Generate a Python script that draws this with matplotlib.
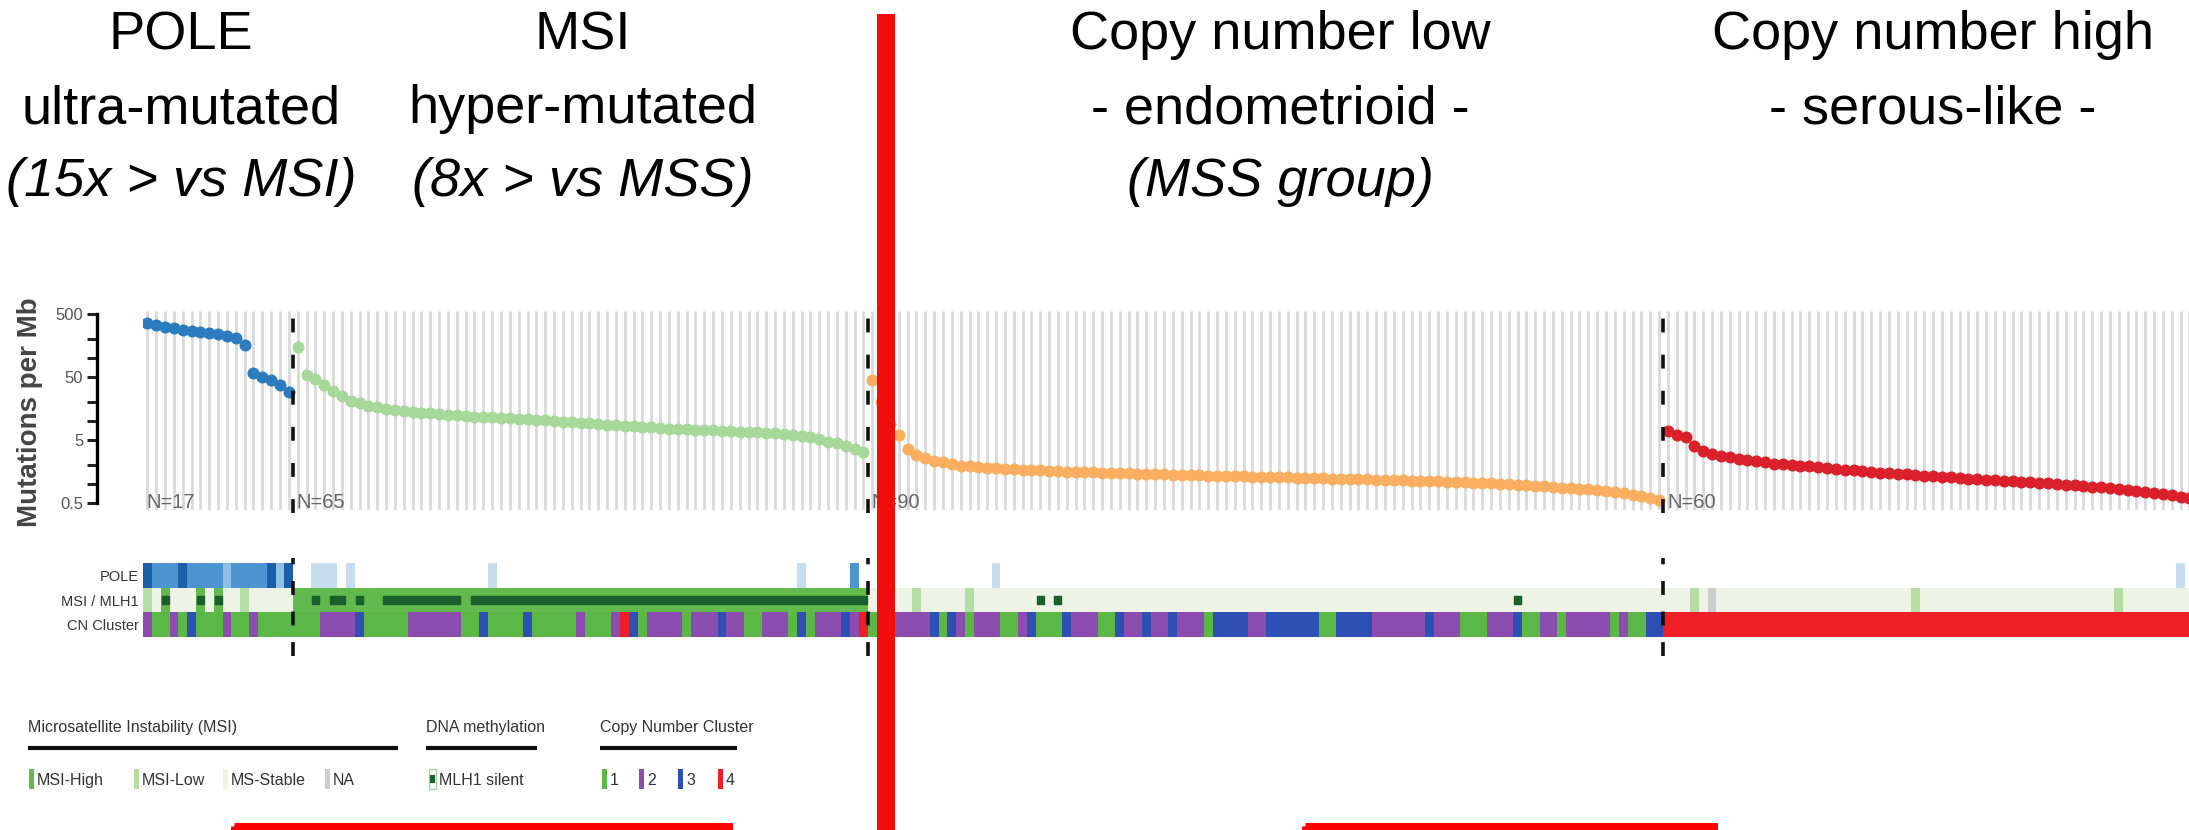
import numpy as np
import matplotlib.pyplot as plt
from matplotlib.colors import to_rgb
from matplotlib.patches import Rectangle

plt.rcParams['font.family'] = ['Liberation Sans', 'DejaVu Sans']
plt.rcParams['lines.scale_dashes'] = False

W, H, DPI = 2189, 830, 100

# subtypes in plotting order
group_names = ["POLE", "MSI", "CN low", "CN high"]
group_sizes = [17, 65, 90, 60]
point_colors = ["#2b7bbf", "#a6d89a", "#fbae60", "#d9202b"]

# mutations per Mb, each subtype sorted high -> low
pole_mut = [364, 334, 315, 297, 279, 272, 262, 252, 240, 224, 206, 161,
            58, 50, 45, 37, 29]
msi_mut = [150, 53, 47, 38, 30, 25, 21, 19, 17.5, 16.5,
           15.5, 15, 14.5, 14, 13.6, 13.2, 12.9, 12.6, 12.3, 12.0,
           11.8, 11.6, 11.4, 11.2, 11.0, 10.8, 10.6, 10.4, 10.2, 10.0,
           9.8, 9.6, 9.4, 9.2, 9.0, 8.8, 8.6, 8.4, 8.2, 8.0,
           7.9, 7.7, 7.6, 7.5, 7.4, 7.3, 7.2, 7.1, 7.0, 6.9,
           6.8, 6.7, 6.6, 6.5, 6.4, 6.2, 6.0, 5.8, 5.5, 5.1,
           4.7, 4.4, 4.0, 3.6, 3.2]
cnl_mut = [45, 20, 9, 6.0, 3.6, 2.9, 2.6, 2.35, 2.2, 2.05,
           1.95, 1.9, 1.85, 1.8, 1.77, 1.74, 1.71, 1.68, 1.66, 1.64,
           1.62, 1.60, 1.58, 1.56, 1.55, 1.53, 1.51, 1.50, 1.48, 1.47,
           1.46, 1.44, 1.43, 1.42, 1.40, 1.39, 1.38, 1.37, 1.36, 1.35,
           1.34, 1.33, 1.32, 1.31, 1.30, 1.29, 1.28, 1.27, 1.26, 1.25,
           1.24, 1.23, 1.22, 1.21, 1.20, 1.19, 1.18, 1.17, 1.16, 1.15,
           1.14, 1.13, 1.12, 1.11, 1.10, 1.09, 1.08, 1.06, 1.05, 1.04,
           1.02, 1.01, 0.99, 0.97, 0.96, 0.94, 0.92, 0.90, 0.88, 0.86,
           0.84, 0.82, 0.80, 0.78, 0.75, 0.72, 0.68, 0.64, 0.60, 0.55]
cnh_mut = [7.0, 6.0, 5.6, 4.0, 3.3, 3.0, 2.8, 2.65, 2.5, 2.4,
           2.3, 2.2, 2.1, 2.05, 2.0, 1.95, 1.9, 1.85, 1.8, 1.75,
           1.7, 1.65, 1.6, 1.56, 1.52, 1.48, 1.45, 1.42, 1.39, 1.36,
           1.33, 1.30, 1.27, 1.24, 1.21, 1.19, 1.17, 1.15, 1.13, 1.11,
           1.09, 1.07, 1.05, 1.03, 1.0, 0.97, 0.95, 0.93, 0.91, 0.89,
           0.87, 0.84, 0.81, 0.78, 0.75, 0.72, 0.69, 0.66, 0.63, 0.60]

# annotation tracks, one character per tumour (same order as above)
# POLE: 0 wild type, 1-4 increasing mutation class
pole_track = ("4333433332" "3333424"
              "0011101000" "0000000000" "0010000000" "0000000000" "0000000000"
              "0000000100" "00030"
              "0000000000" "0000100000" "0000000000" "0000000000" "0000000000"
              "0000000000" "0000000000" "0000000000" "0000000000"
              "0000000000" "0000000000" "0000000000" "0000000000" "0000000000"
              "0000000010")
# MSI: 0 MS-stable, 1 MSI-high, 2 MSI-low, 3 NA
msi_track = ("2010001010" "0200000"
             "1111111111" "1111111111" "1111111111" "1111111111" "1111111111"
             "1111111111" "11111"
             "0000020000" "0200000000" "0000000000" "0000000000" "0000000000"
             "0000000000" "0000000000" "0000000000" "0000000000"
             "0002030000" "0000000000" "0000000020" "0000000000" "0000000000"
             "0200000000")
# MLH1 promoter silenced
mlh1_track = ("0010001010" "0000000"
              "0010110100" "1111111110" "1111111111" "1111111111" "1111111111"
              "1111111111" "11111"
              "0000000000" "0000000001" "0100000000" "0000000000" "0000000000"
              "0000000000" "0000000000" "0001000000" "0000000000"
              "0000000000" "0000000000" "0000000000" "0000000000" "0000000000"
              "0000000000")
# copy number cluster 1-4
cn_track = ("2112131112" "1121111"
            "1112222311" "1112222221" "1311113111" "1121112431" "2222122232"
            "2112221312" "22324"
            "1222222313" "2122211231" "1132221132" "2322322213" "3332233333"
            "3113333222" "2223222111" "2223112212" "2222121133"
            "4444444444" "4444444444" "4444444444" "4444444444" "4444444444"
            "4444444444")

pole_colors = {"0": "#ffffff", "1": "#c6dcef", "2": "#8ec0e6", "3": "#4d94d2", "4": "#1b5fa9"}
msi_colors = {"0": "#edf4e6", "1": "#62b94e", "2": "#b5dda4", "3": "#cdcdcd"}
cn_colors = {"1": "#5bb847", "2": "#8b4db0", "3": "#2e4fb3", "4": "#ef1f28"}
mlh1_color = "#185f2b"

fig = plt.figure(figsize=(W / DPI, H / DPI), dpi=DPI)


def px_axes(left, top, width, height, **kw):
    return fig.add_axes([left / W, 1 - (top + height) / H, width / W, height / H], **kw)


n = sum(group_sizes)
starts = np.concatenate([[0], np.cumsum(group_sizes)[:-1]])
bounds = starts[1:] - 0.5
xlim = (-0.5, 230.95)

# ---- mutation rate panel ----
ax = px_axes(143, 311, 2046, 199)
ax.set_yscale("log")
ylim = (0.387, 558)
ax.set_ylim(*ylim)
ax.set_xlim(*xlim)
ax.patch.set_alpha(0)
ax.vlines(np.arange(n), ylim[0], ylim[1], color="#d9d9d9", lw=2.0, zorder=0)

for s0, vals, c, size in zip(starts, [pole_mut, msi_mut, cnl_mut, cnh_mut], point_colors, group_sizes):
    xs = np.arange(s0, s0 + len(vals))
    ax.scatter(xs, vals, s=75, color=c, lw=0, zorder=3)
    ax.text(s0 - 0.1, 0.5, f"N={size}", fontsize=14.5, color="#666666", va="center", ha="left", zorder=4)

for b in bounds:
    ax.axvline(b, ymin=-0.015, ymax=1.0, color="#111111", lw=2.6, dashes=(10, 16), clip_on=False, zorder=5)

for side in ["top", "right", "bottom"]:
    ax.spines[side].set_visible(False)
ax.spines["left"].set_position(("outward", 33))
ax.spines["left"].set_bounds(0.5, 500)
ax.spines["left"].set_linewidth(2.4)
ax.set_xticks([])
ax.set_yticks([0.5, 5, 50, 500], ["0.5", "5", "50", "500"])
ax.set_yticks([1, 2, 10, 20, 100, 200], minor=True)
ax.yaxis.set_minor_formatter(plt.NullFormatter())
ax.tick_params(axis="y", which="both", length=7, width=2.2, color="#222222",
               labelsize=12, labelcolor="#555555", pad=3)

fig.text(30 / W, 1 - 412 / H, "Mutations per Mb", rotation=90, fontsize=20,
         color="#444444", fontweight="bold", ha="center", va="center")

# ---- annotation tracks ----
tk = px_axes(143, 563, 2046, 74)
rows = [[to_rgb(pole_colors[c]) for c in pole_track],
        [to_rgb(msi_colors[c]) for c in msi_track],
        [to_rgb(cn_colors[c]) for c in cn_track]]
tk.imshow(np.array(rows), extent=(-0.5, n - 0.5, 3, 0), aspect="auto", interpolation="nearest")
tk.set_xlim(*xlim)
tk.set_ylim(3, 0)

# silenced MLH1 drawn as a dark band inside the MSI row
flags = np.array([c == "1" for c in mlh1_track], dtype=int)
edges = np.diff(np.concatenate([[0], flags, [0]]))
run_start = np.where(edges == 1)[0]
run_end = np.where(edges == -1)[0]
tk.broken_barh([(a - 0.4, b - a - 0.2) for a, b in zip(run_start, run_end)], (1.33, 0.34),
               color=mlh1_color, zorder=3)

for b in bounds:
    tk.axvline(b, ymin=-0.25, ymax=1.07, color="#111111", lw=2.6, dashes=(10, 12), clip_on=False, zorder=5)

for side in tk.spines.values():
    side.set_visible(False)
tk.set_xticks([])
tk.set_yticks([0.5, 1.5, 2.5], ["POLE", "MSI / MLH1", "CN Cluster"])
tk.tick_params(axis="y", length=0, pad=3, labelsize=10.5, labelcolor="#333333")

# ---- overlay: headings, legend, highlights ----
ov = fig.add_axes([0, 0, 1, 1], zorder=10)
ov.set_xlim(0, W)
ov.set_ylim(H, 0)
ov.axis("off")

title_kw = dict(fontsize=39, ha="center", va="baseline", color="black")
headings = [
    (181, ["POLE", "ultra-mutated", "(15x > vs MSI)"]),
    (583, ["MSI", "hyper-mutated", "(8x > vs MSS)"]),
    (1280, ["Copy number low", "- endometrioid -", "(MSS group)"]),
    (1933, ["Copy number high", "- serous-like -"]),
]
for xc, lines in headings:
    for i, line in enumerate(lines):
        style = "italic" if line.startswith("(") else "normal"
        ov.text(xc, [49, 123, 196][i], line, style=style, **title_kw)

# legend
leg_kw = dict(fontsize=11.5, color="#333333", va="center", ha="left")
for x0, x1, title in [(28, 398, "Microsatellite Instability (MSI)"),
                      (426, 537, "DNA methylation"),
                      (600, 737, "Copy Number Cluster")]:
    ov.text(x0, 727, title, **leg_kw)
    ov.plot([x0, x1], [748, 748], color="#111111", lw=3, solid_capstyle="butt")

legend_items = [(29, msi_colors["1"], "MSI-High"), (134, msi_colors["2"], "MSI-Low"),
                (223, msi_colors["0"], "MS-Stable"), (325, msi_colors["3"], "NA"),
                (602, cn_colors["1"], "1"), (639, cn_colors["2"], "2"),
                (678, cn_colors["3"], "3"), (718, cn_colors["4"], "4")]
for xs, col, lab in legend_items:
    ov.add_patch(Rectangle((xs, 769), 5, 20, color=col, lw=0))
    ov.text(xs + 8, 780, lab, **leg_kw)
ov.add_patch(Rectangle((429, 769), 7, 20, facecolor="white", edgecolor="#9fd39a", lw=1))
ov.add_patch(Rectangle((430, 775), 5, 8, color=mlh1_color, lw=0))
ov.text(439, 780, "MLH1 silent", **leg_kw)

# highlight marks
ov.plot([886, 886], [14, H], color="#f20d0d", lw=13, solid_capstyle="butt")
for x0, x1 in [(234, 729), (1305, 1714)]:
    ov.add_patch(Rectangle((x0, 826), x1 - x0, 40, fill=False, edgecolor="#ff0000", lw=5, clip_on=False))

fig.savefig("out.png", dpi=DPI)
